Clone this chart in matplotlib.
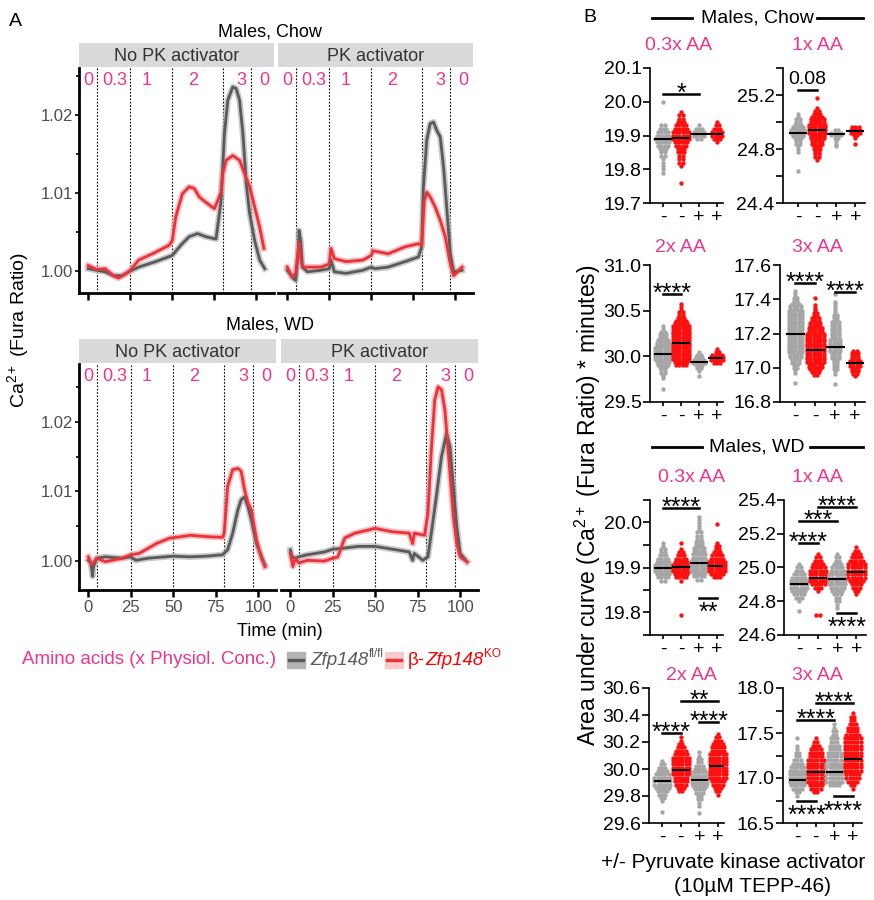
import numpy as np
import matplotlib
matplotlib.use('Agg')
import matplotlib.pyplot as plt
from matplotlib.lines import Line2D
from matplotlib.patches import Rectangle

plt.rcParams['font.family'] = ['Liberation Sans', 'DejaVu Sans']
plt.rcParams['mathtext.fontset'] = 'custom'
plt.rcParams['mathtext.rm'] = 'Liberation Sans'
plt.rcParams['mathtext.it'] = 'Liberation Sans:italic'
plt.rcParams['mathtext.bf'] = 'Liberation Sans:bold'

# ---------------- Panel A: Ca2+ traces (time in min, Fura ratio) ----------------
chow_nopk_t_ctrl = [0, 5, 10, 15, 20, 25, 30, 40, 50, 55, 60, 65, 70, 76, 79, 81, 83, 86, 88, 90, 92, 94, 96, 99, 102, 105]
chow_nopk_v_ctrl = [1.0003, 1.0001, 0.9999, 0.9994, 0.9994, 1.0000, 1.0005, 1.0012, 1.0020, 1.0033, 1.0044, 1.0048, 1.0044,
                    1.0041, 1.0090, 1.0176, 1.0219, 1.0236, 1.0234, 1.0219, 1.0176, 1.0112, 1.0074, 1.0039, 1.0014, 1.0003]
chow_nopk_t_ko = [0, 5, 10, 15, 18, 22, 25, 30, 40, 48, 50, 52, 56, 60, 63, 66, 70, 75, 77, 79, 80, 82, 86, 90, 93, 96, 99, 102, 104.5]
chow_nopk_v_ko = [1.0007, 1.0002, 1.0003, 0.9994, 0.9991, 0.9996, 1.0001, 1.0014, 1.0024, 1.0033, 1.0039, 1.0069, 1.0099, 1.0108,
                  1.0106, 1.0095, 1.0088, 1.0080, 1.0090, 1.0101, 1.0125, 1.0142, 1.0148, 1.0142, 1.0125, 1.0108, 1.0082, 1.0056, 1.0029]

chow_pk_t_ctrl = [0, 3, 5, 6.5, 7, 8, 9, 12, 20, 25, 26, 28, 35, 45, 50, 52, 60, 70, 78, 80, 81, 83, 85, 87, 89, 91, 93, 95, 97, 99, 104]
chow_pk_v_ctrl = [1.0001, 0.9992, 0.9988, 1.0022, 1.0052, 1.0039, 1.0005, 0.9999, 1.0001, 1.0003, 1.0014, 0.9999, 0.9997, 1.0001,
                  1.0005, 1.0003, 1.0005, 1.0012, 1.0018, 1.0031, 1.0108, 1.0168, 1.0189, 1.0191, 1.0180, 1.0172, 1.0133, 1.0078,
                  1.0022, 0.9999, 1.0001]
chow_pk_t_ko = [0, 3, 5, 7, 8.5, 10, 20, 25, 26, 28, 35, 45, 50, 51, 60, 70, 78, 80, 81.5, 83, 85, 88, 91, 94, 97, 99, 104]
chow_pk_v_ko = [1.0005, 0.9992, 0.9997, 1.0037, 1.0009, 1.0005, 1.0005, 1.0009, 1.0029, 1.0016, 1.0012, 1.0014, 1.0020, 1.0026,
                1.0022, 1.0031, 1.0035, 1.0033, 1.0090, 1.0101, 1.0095, 1.0082, 1.0065, 1.0044, 1.0009, 0.9994, 1.0005]

wd_nopk_t_ctrl = [0, 1.5, 2.5, 3, 5, 10, 20, 25, 28, 35, 50, 60, 70, 79, 82, 85, 88, 90, 92, 94, 96, 99, 102, 104]
wd_nopk_v_ctrl = [1.0001, 0.9997, 0.9978, 0.9992, 1.0004, 1.0006, 1.0004, 1.0006, 1.0001, 1.0004, 1.0007, 1.0006, 1.0007, 1.0009,
                  1.0016, 1.0040, 1.0073, 1.0088, 1.0092, 1.0078, 1.0059, 1.0025, 1.0006, 0.9994]
wd_nopk_t_ko = [0, 2, 5, 10, 20, 25, 30, 40, 48, 55, 60, 70, 79, 80, 82, 85, 88, 90, 92, 94, 96, 99, 102, 104]
wd_nopk_v_ko = [1.0006, 0.9994, 1.0004, 0.9999, 1.0004, 1.0009, 1.0011, 1.0025, 1.0033, 1.0035, 1.0037, 1.0035, 1.0034, 1.0040,
                1.0107, 1.0131, 1.0133, 1.0129, 1.0102, 1.0083, 1.0073, 1.0030, 1.0004, 0.9992]

wd_pk_t_ctrl = [0, 1, 3, 5, 10, 20, 25, 30, 40, 50, 60, 70, 72, 73, 78, 81, 83, 86, 89, 92, 94, 96, 98, 100, 104]
wd_pk_v_ctrl = [1.0016, 1.0006, 1.0004, 1.0006, 1.0009, 1.0013, 1.0017, 1.0018, 1.0021, 1.0021, 1.0017, 1.0013, 1.0001, 1.0011,
                1.0001, 1.0006, 1.0040, 1.0093, 1.0150, 1.0183, 1.0164, 1.0107, 1.0049, 1.0011, 0.9999]
wd_pk_t_ko = [0, 1.5, 3, 5, 10, 20, 25, 28, 32, 38, 45, 50, 60, 70, 72, 73, 79, 81, 83, 85, 87, 89, 91, 94, 96, 98, 100, 104]
wd_pk_v_ko = [1.0011, 0.9992, 1.0004, 0.9997, 1.0001, 1.0000, 1.0004, 1.0006, 1.0033, 1.0040, 1.0044, 1.0047, 1.0042, 1.0040,
              1.0025, 1.0040, 1.0037, 1.0068, 1.0159, 1.0231, 1.0250, 1.0246, 1.0217, 1.0126, 1.0064, 1.0025, 1.0006, 0.9999]

aa_labels = ['0', '0.3', '1', '2', '3', '0']
aa_label_times = [0, 15.5, 34.5, 62.5, 91, 105]
aa_switch_times = [5, 25, 50, 80, 97]

# ---------------- Panel B: AUC swarms (top value, bin step, dots per row, medians) ----------------
group_labels = ['-', '-', '+', '+']

chow03_step = 0.01
chow03_tops = [20.00, 19.97, 19.93, 19.94]
chow03_counts = [[1, 0, 0, 0, 0, 0, 0, 2, 3, 4, 5, 6, 5, 4, 3, 2, 2, 1, 1, 1, 1, 1],
                 [1, 2, 2, 3, 4, 5, 6, 6, 6, 5, 4, 3, 3, 2, 2, 2, 1, 0, 0, 0, 0, 1],
                 [1, 3, 4, 4, 2],
                 [1, 2, 3, 4, 4, 3, 1]]
chow03_medians = [19.89, 19.893, 19.905, 19.905]
chow03_sig = [(1, 3, 20.022, '*', 'above')]

chow1_step = 0.02
chow1_tops = [25.06, 25.18, 24.94, 24.96]
chow1_counts = [[1, 1, 2, 2, 3, 4, 5, 5, 4, 3, 2, 2, 1, 1, 1, 0, 0, 0, 0, 0, 0, 1],
                [1, 0, 0, 0, 1, 2, 3, 4, 5, 5, 6, 6, 6, 6, 5, 5, 4, 4, 3, 3, 2, 2, 2, 1],
                [2, 4, 4, 2, 1, 1, 1],
                [3, 4, 4, 2, 1, 0, 1]]
chow1_medians = [24.92, 24.94, 24.91, 24.93]
chow1_sig = [(1, 2, 25.24, '0.08', 'above')]

chow2_step = 0.03
chow2_tops = [30.33, 30.57, 30.05, 30.08]
chow2_counts = [[1, 1, 2, 3, 3, 4, 5, 5, 6, 6, 6, 6, 6, 5, 4, 3, 2, 2, 1, 1, 0, 0, 0, 1],
                [1, 1, 1, 2, 2, 3, 4, 5, 6, 6, 6, 6, 6, 6, 6, 6, 6, 6, 6, 6, 6, 5, 4],
                [1, 2, 3, 4, 5, 3, 2, 1, 0, 1],
                [1, 2, 4, 5, 5, 3]]
chow2_medians = [30.03, 30.15, 29.94, 29.98]
chow2_sig = [(1, 2, 30.68, '****', 'above')]

chow3_step = 0.015
chow3_tops = [17.45, 17.41, 17.43, 17.10]
chow3_counts = [[1, 1, 1, 2, 2, 3, 4, 4, 5, 5, 5, 5, 5, 5, 5, 5, 5, 5, 5, 5, 5, 5, 5, 5, 5, 4, 4, 3, 3, 2, 2, 1, 1, 0, 0, 0, 1],
                [1, 0, 0, 1, 1, 1, 2, 2, 3, 3, 4, 4, 5, 5, 6, 6, 6, 6, 6, 6, 6, 6, 6, 6, 6, 6, 5, 5, 4, 3, 2],
                [1, 0, 0, 1, 1, 1, 1, 1, 2, 2, 2, 3, 3, 3, 3, 3, 3, 3, 4, 4, 4, 4, 4, 3, 3, 3, 2, 2, 2, 2, 1, 1, 0, 0, 0, 1],
                [2, 3, 3, 3, 4, 4, 4, 3, 3, 2, 1]]
chow3_medians = [17.195, 17.105, 17.12, 17.03]
chow3_sig = [(1, 2, 17.497, '****', 'above'), (3, 4, 17.444, '****', 'above')]

wd03_step = 0.007
wd03_tops = [19.955, 19.955, 20.013, 19.997]
wd03_counts = [[1, 1, 2, 2, 3, 4, 5, 6, 6, 6, 5, 4, 2],
               [1, 0, 1, 2, 3, 4, 5, 6, 6, 6, 5, 4, 1, 0, 0, 0, 0, 0, 0, 0, 0, 0, 0, 1],
               [1, 1, 1, 1, 1, 2, 2, 2, 3, 3, 4, 4, 5, 5, 6, 6, 6, 6, 5, 4, 2],
               [1, 0, 0, 0, 0, 0, 1, 2, 2, 3, 4, 5, 6, 6, 6, 6, 5, 3]]
wd03_medians = [19.899, 19.902, 19.911, 19.904]
wd03_sig = [(1, 3, 20.033, '****', 'above'), (3, 4, 19.832, '**', 'below')]

wd1_step = 0.02
wd1_tops = [25.02, 25.08, 25.08, 25.12]
wd1_counts = [[1, 2, 3, 4, 5, 6, 6, 6, 5, 4, 3, 1, 0, 0, 1],
              [1, 2, 3, 4, 5, 6, 6, 6, 6, 5, 3, 1, 0, 0, 0, 0, 0, 0, 2],
              [1, 2, 2, 3, 4, 5, 6, 6, 6, 6, 5, 4, 3, 2, 2, 1, 1],
              [1, 2, 3, 4, 5, 6, 6, 6, 6, 6, 5, 4, 3, 2, 1]]
wd1_medians = [24.90, 24.94, 24.93, 24.975]
wd1_sig = [(2, 4, 25.36, '****', 'above'), (1, 3, 25.276, '***', 'above'),
           (1, 2, 25.147, '****', 'above'), (3, 4, 24.73, '****', 'below')]

wd2_step = 0.025
wd2_tops = [30.06, 30.235, 30.125, 30.26]
wd2_counts = [[1, 2, 3, 4, 5, 6, 6, 6, 5, 4, 3, 2, 1, 0, 0, 1],
              [1, 1, 2, 3, 4, 5, 6, 6, 6, 6, 6, 6, 5, 5, 4, 3, 2],
              [1, 1, 2, 2, 3, 4, 5, 6, 6, 6, 5, 4, 3, 2, 2, 1, 1, 0, 1],
              [1, 2, 3, 4, 5, 5, 6, 6, 6, 6, 6, 6, 6, 6, 5, 4, 3, 2, 1]]
wd2_medians = [29.91, 29.995, 29.92, 30.02]
wd2_sig = [(2, 4, 30.504, '**', 'above'), (3, 4, 30.35, '****', 'above'), (1, 2, 30.264, '****', 'above')]

wd3_step = 0.04
wd3_tops = [17.44, 17.44, 17.60, 17.72]
wd3_counts = [[1, 0, 1, 1, 2, 2, 3, 4, 5, 6, 6, 6, 6, 5, 4, 2, 1],
              [1, 2, 3, 4, 5, 5, 6, 6, 6, 6, 6, 6, 6, 5, 4, 2],
              [1, 1, 2, 2, 3, 3, 4, 4, 5, 5, 5, 6, 6, 6, 6, 6, 6, 4],
              [1, 2, 2, 3, 4, 4, 5, 6, 6, 6, 6, 6, 6, 6, 6, 6, 6, 5, 5, 4, 2, 1]]
wd3_medians = [16.98, 17.07, 17.07, 17.21]
wd3_sig = [(2, 4, 17.837, '****', 'above'), (1, 3, 17.644, '****', 'above'),
           (1, 2, 16.744, '****', 'below'), (3, 4, 16.796, '****', 'below')]

# ---------------- styling ----------------
PINK = '#ec368c'
GRAY_LINE, GRAY_BAND = '#5a5a5a', '#b4b4b4'
RED_LINE, RED_BAND = '#e8333b', '#f5a3a7'
DOT_COLORS = ['#a6a6a6', '#ff1010', '#a6a6a6', '#ff1010']
TICK_GRAY = '#4d4d4d'

W, H = 874, 900
fig = plt.figure(figsize=(W / 100, H / 100), dpi=100)
renderer = fig.canvas.get_renderer()


def box(x0, y0, x1, y1):
    return [x0 / W, 1 - y1 / H, (x1 - x0) / W, (y1 - y0) / H]


def ftext(x, y, s, **kw):
    return fig.text(x / W, 1 - y / H, s, **kw)


def fline(x0, x1, y, lw=2, color='black'):
    fig.add_artist(Line2D([x0 / W, x1 / W], [1 - y / H] * 2, transform=fig.transFigure, color=color, lw=lw))


def run_text(x, y, parts, color):
    # parts: (text, fontsize, style, raise_px); placed one after another on a common baseline
    for txt, size, style, rise in parts:
        t = ftext(x, y - rise, txt, fontsize=size, style=style, color=color, ha='left', va='baseline')
        x = t.get_window_extent(renderer).x1 + 0.5


# ---------------- Panel A ----------------
def trace_axes(rect, strip_rect, strip_label, ylim, traces, left, bottom_labels):
    ax = fig.add_axes(box(*rect))
    sax = fig.add_axes(box(*strip_rect))
    sax.set_facecolor('#d9d9d9')
    sax.set_xticks([])
    sax.set_yticks([])
    for s in sax.spines.values():
        s.set_visible(False)
    sax.text(0.5, 0.45, strip_label, ha='center', va='center', fontsize=13, color='#333333', transform=sax.transAxes)

    for t in aa_switch_times:
        ax.axvline(t, color='black', lw=0.8, ls=(0, (1.5, 1.5)), zorder=1)
    for t, v, lc, bc in traces:
        ax.plot(t, v, color=bc, lw=4.5, alpha=0.7, zorder=2)
        ax.plot(t, v, color=lc, lw=2.0, zorder=3)
    for lab, t in zip(aa_labels, aa_label_times):
        ax.text(t, 0.945, lab, color=PINK, fontsize=13, ha='center', va='center',
                transform=ax.get_xaxis_transform())
    ax.set_xlim(-5.5, 110.5)
    ax.set_ylim(*ylim)
    ax.set_xticks([0, 25, 50, 75, 100])
    ax.spines['top'].set_visible(False)
    ax.spines['right'].set_visible(False)
    ax.spines['bottom'].set_linewidth(2)
    ax.spines['left'].set_linewidth(2)
    ax.tick_params(axis='x', length=5, width=1.8, color='black', labelsize=12, labelcolor=TICK_GRAY, pad=2)
    if left:
        ax.set_yticks([1.00, 1.01, 1.02])
        ax.set_yticklabels(['1.00', '1.01', '1.02'])
        ax.set_yticks([1.005, 1.015, 1.025], minor=True)
        ax.tick_params(axis='y', which='major', length=3, width=1.2, labelsize=12, labelcolor=TICK_GRAY, pad=1)
        ax.tick_params(axis='y', which='minor', length=2, width=1.2)
    else:
        ax.spines['left'].set_visible(False)
        ax.set_yticks([])
    if not bottom_labels:
        ax.set_xticklabels([])
    return ax


top_ylim = (0.99718, 1.02603)
bot_ylim = (0.99584, 1.02828)

trace_axes((79, 68, 274, 293), (79, 43, 274, 67), 'No PK activator', top_ylim,
           [(chow_nopk_t_ctrl, chow_nopk_v_ctrl, GRAY_LINE, GRAY_BAND),
            (chow_nopk_t_ko, chow_nopk_v_ko, RED_LINE, RED_BAND)], True, False)
trace_axes((278, 68, 473, 293), (278, 43, 473, 67), 'PK activator', top_ylim,
           [(chow_pk_t_ctrl, chow_pk_v_ctrl, GRAY_LINE, GRAY_BAND),
            (chow_pk_t_ko, chow_pk_v_ko, RED_LINE, RED_BAND)], False, False)
trace_axes((79, 364, 276, 590), (79, 339, 276, 363), 'No PK activator', bot_ylim,
           [(wd_nopk_t_ctrl, wd_nopk_v_ctrl, GRAY_LINE, GRAY_BAND),
            (wd_nopk_t_ko, wd_nopk_v_ko, RED_LINE, RED_BAND)], True, True)
trace_axes((281, 364, 478, 590), (281, 339, 478, 363), 'PK activator', bot_ylim,
           [(wd_pk_t_ctrl, wd_pk_v_ctrl, GRAY_LINE, GRAY_BAND),
            (wd_pk_t_ko, wd_pk_v_ko, RED_LINE, RED_BAND)], False, True)

ftext(15, 22, 'A', fontsize=14, ha='center', va='center')
ftext(270, 32, 'Males, Chow', fontsize=13, ha='center', va='center')
ftext(270, 325, 'Males, WD', fontsize=13, ha='center', va='center')
ftext(280, 632, 'Time (min)', fontsize=13, ha='center', va='center')
ftext(18, 330, 'Ca$^{2+}$ (Fura Ratio)', fontsize=14, ha='center', va='center', rotation=90)

# legend row
ftext(22, 660, 'Amino acids (x Physiol. Conc.)', fontsize=13.5, color=PINK, ha='left', va='center')
fig.add_artist(Rectangle((287 / W, 1 - 668 / H), 18 / W, 16 / H, transform=fig.transFigure, color=GRAY_BAND))
fline(289, 303, 660, lw=2.5, color=GRAY_LINE)
run_text(310, 665, [('Zfp148', 13.5, 'italic', 0), ('fl/fl', 8.5, 'normal', 8)], GRAY_LINE)
fig.add_artist(Rectangle((385 / W, 1 - 668 / H), 18 / W, 16 / H, transform=fig.transFigure, color='#f9caca'))
fline(387, 401, 660, lw=2.5, color=RED_LINE)
run_text(408, 665, [('β-', 13.5, 'normal', 0), ('Zfp148', 13.5, 'italic', 0), ('KO', 8.5, 'normal', 8)], '#ff0000')


# ---------------- Panel B ----------------
def swarm_axes(rect, xlim, ylim, major, minor, major_labels, tops, step, counts, medians, sigs):
    ax = fig.add_axes(box(*rect))
    for i in range(4):
        x = i + 1
        xs, ys = [], []
        for j, n in enumerate(counts[i]):
            for k in range(n):
                xs.append(x + (k - (n - 1) / 2) * 0.17)
                ys.append(tops[i] - j * step)
        ax.scatter(xs, ys, s=10, color=DOT_COLORS[i], linewidths=0, zorder=2, clip_on=False)
        ax.plot([x - 0.42, x + 0.42], [medians[i]] * 2, color='black', lw=1.5, zorder=3)
    for a, b, y, txt, where in sigs:
        ax.plot([a, b], [y, y], color='black', lw=1.8, clip_on=False, zorder=4)
        if '*' not in txt:
            ax.annotate(txt, ((a + b) / 2, y), xytext=(0, 1), textcoords='offset points',
                        ha='center', va='bottom', fontsize=14, annotation_clip=False)
        elif where == 'above':
            ax.annotate(txt, ((a + b) / 2, y), xytext=(0, -5), textcoords='offset points',
                        ha='center', va='baseline', fontsize=18, annotation_clip=False, zorder=5)
        else:
            ax.annotate(txt, ((a + b) / 2, y), xytext=(0, -16), textcoords='offset points',
                        ha='center', va='baseline', fontsize=18, annotation_clip=False, zorder=5)
    ax.set_xlim(*xlim)
    ax.set_ylim(*ylim)
    ax.set_yticks(major)
    ax.set_yticklabels(major_labels)
    ax.set_yticks(minor, minor=True)
    ax.set_xticks([1, 2, 3, 4])
    ax.set_xticklabels(group_labels)
    ax.spines['top'].set_visible(False)
    ax.spines['right'].set_visible(False)
    ax.spines['left'].set_linewidth(1.2)
    ax.spines['bottom'].set_linewidth(1.2)
    ax.tick_params(axis='y', which='major', length=5, width=1.2, labelsize=14, pad=1)
    ax.tick_params(axis='y', which='minor', length=5, width=1.2)
    ax.tick_params(axis='x', length=3, width=1.2, labelsize=14, pad=1)
    return ax


LX, RX = (0.28, 4.33), (0.22, 4.5)

swarm_axes((650, 68, 723, 203), LX, (19.7, 20.1), [19.7, 19.8, 19.9, 20.0, 20.1], [],
           ['19.7', '19.8', '19.9', '20.0', '20.1'],
           chow03_tops, chow03_step, chow03_counts, chow03_medians, chow03_sig)
swarm_axes((783, 68, 865, 203), RX, (24.4, 25.4), [24.4, 24.8, 25.2], [24.6, 25.0, 25.4],
           ['24.4', '24.8', '25.2'],
           chow1_tops, chow1_step, chow1_counts, chow1_medians, chow1_sig)
swarm_axes((650, 265, 723, 402), LX, (29.5, 31.0), [29.5, 30.0, 30.5, 31.0], [],
           ['29.5', '30.0', '30.5', '31.0'],
           chow2_tops, chow2_step, chow2_counts, chow2_medians, chow2_sig)
swarm_axes((780, 265, 865, 402), RX, (16.8, 17.6), [16.8, 17.0, 17.2, 17.4, 17.6], [],
           ['16.8', '17.0', '17.2', '17.4', '17.6'],
           chow3_tops, chow3_step, chow3_counts, chow3_medians, chow3_sig)
swarm_axes((650, 500, 723, 635), LX, (19.75, 20.05), [19.8, 19.9, 20.0], [19.75, 19.85, 19.95, 20.05],
           ['19.8', '19.9', '20.0'],
           wd03_tops, wd03_step, wd03_counts, wd03_medians, wd03_sig)
swarm_axes((784, 500, 866, 635), RX, (24.6, 25.4), [24.6, 24.8, 25.0, 25.2, 25.4], [],
           ['24.6', '24.8', '25.0', '25.2', '25.4'],
           wd1_tops, wd1_step, wd1_counts, wd1_medians, wd1_sig)
swarm_axes((649, 688, 724, 823), LX, (29.6, 30.6), [29.6, 29.8, 30.0, 30.2, 30.4, 30.6], [],
           ['29.6', '29.8', '30.0', '30.2', '30.4', '30.6'],
           wd2_tops, wd2_step, wd2_counts, wd2_medians, wd2_sig)
swarm_axes((783, 688, 862, 823), RX, (16.5, 18.0), [16.5, 17.0, 17.5, 18.0], [16.75, 17.25, 17.75],
           ['16.5', '17.0', '17.5', '18.0'],
           wd3_tops, wd3_step, wd3_counts, wd3_medians, wd3_sig)

# panel titles
ftext(679, 45, '0.3x AA', fontsize=14, color=PINK, ha='center', va='center')
ftext(817, 45, '1x AA', fontsize=14, color=PINK, ha='center', va='center')
ftext(680, 247, '2x AA', fontsize=14, color=PINK, ha='center', va='center')
ftext(817, 247, '3x AA', fontsize=14, color=PINK, ha='center', va='center')
ftext(692, 478, '0.3x AA', fontsize=14, color=PINK, ha='center', va='center')
ftext(817, 478, '1x AA', fontsize=14, color=PINK, ha='center', va='center')
ftext(691, 675, '2x AA', fontsize=14, color=PINK, ha='center', va='center')
ftext(817, 675, '3x AA', fontsize=14, color=PINK, ha='center', va='center')

ftext(590, 17, 'B', fontsize=14, ha='center', va='center')
ftext(757, 18, 'Males, Chow', fontsize=14, ha='center', va='center')
fline(652, 692, 18)
fline(817, 863, 18)
ftext(757, 447, 'Males, WD', fontsize=14, ha='center', va='center')
fline(652, 702, 447)
fline(810, 863, 447)

ftext(588, 505, 'Area under curve (Ca$^{2+}$ (Fura Ratio) * minutes)', fontsize=16.5,
      ha='center', va='center', rotation=90)
ftext(733, 863, '+/- Pyruvate kinase activator', fontsize=15, ha='center', va='center')
ftext(753, 887, '(10µM TEPP-46)', fontsize=15, ha='center', va='center')

fig.savefig('out.png', dpi=100)
